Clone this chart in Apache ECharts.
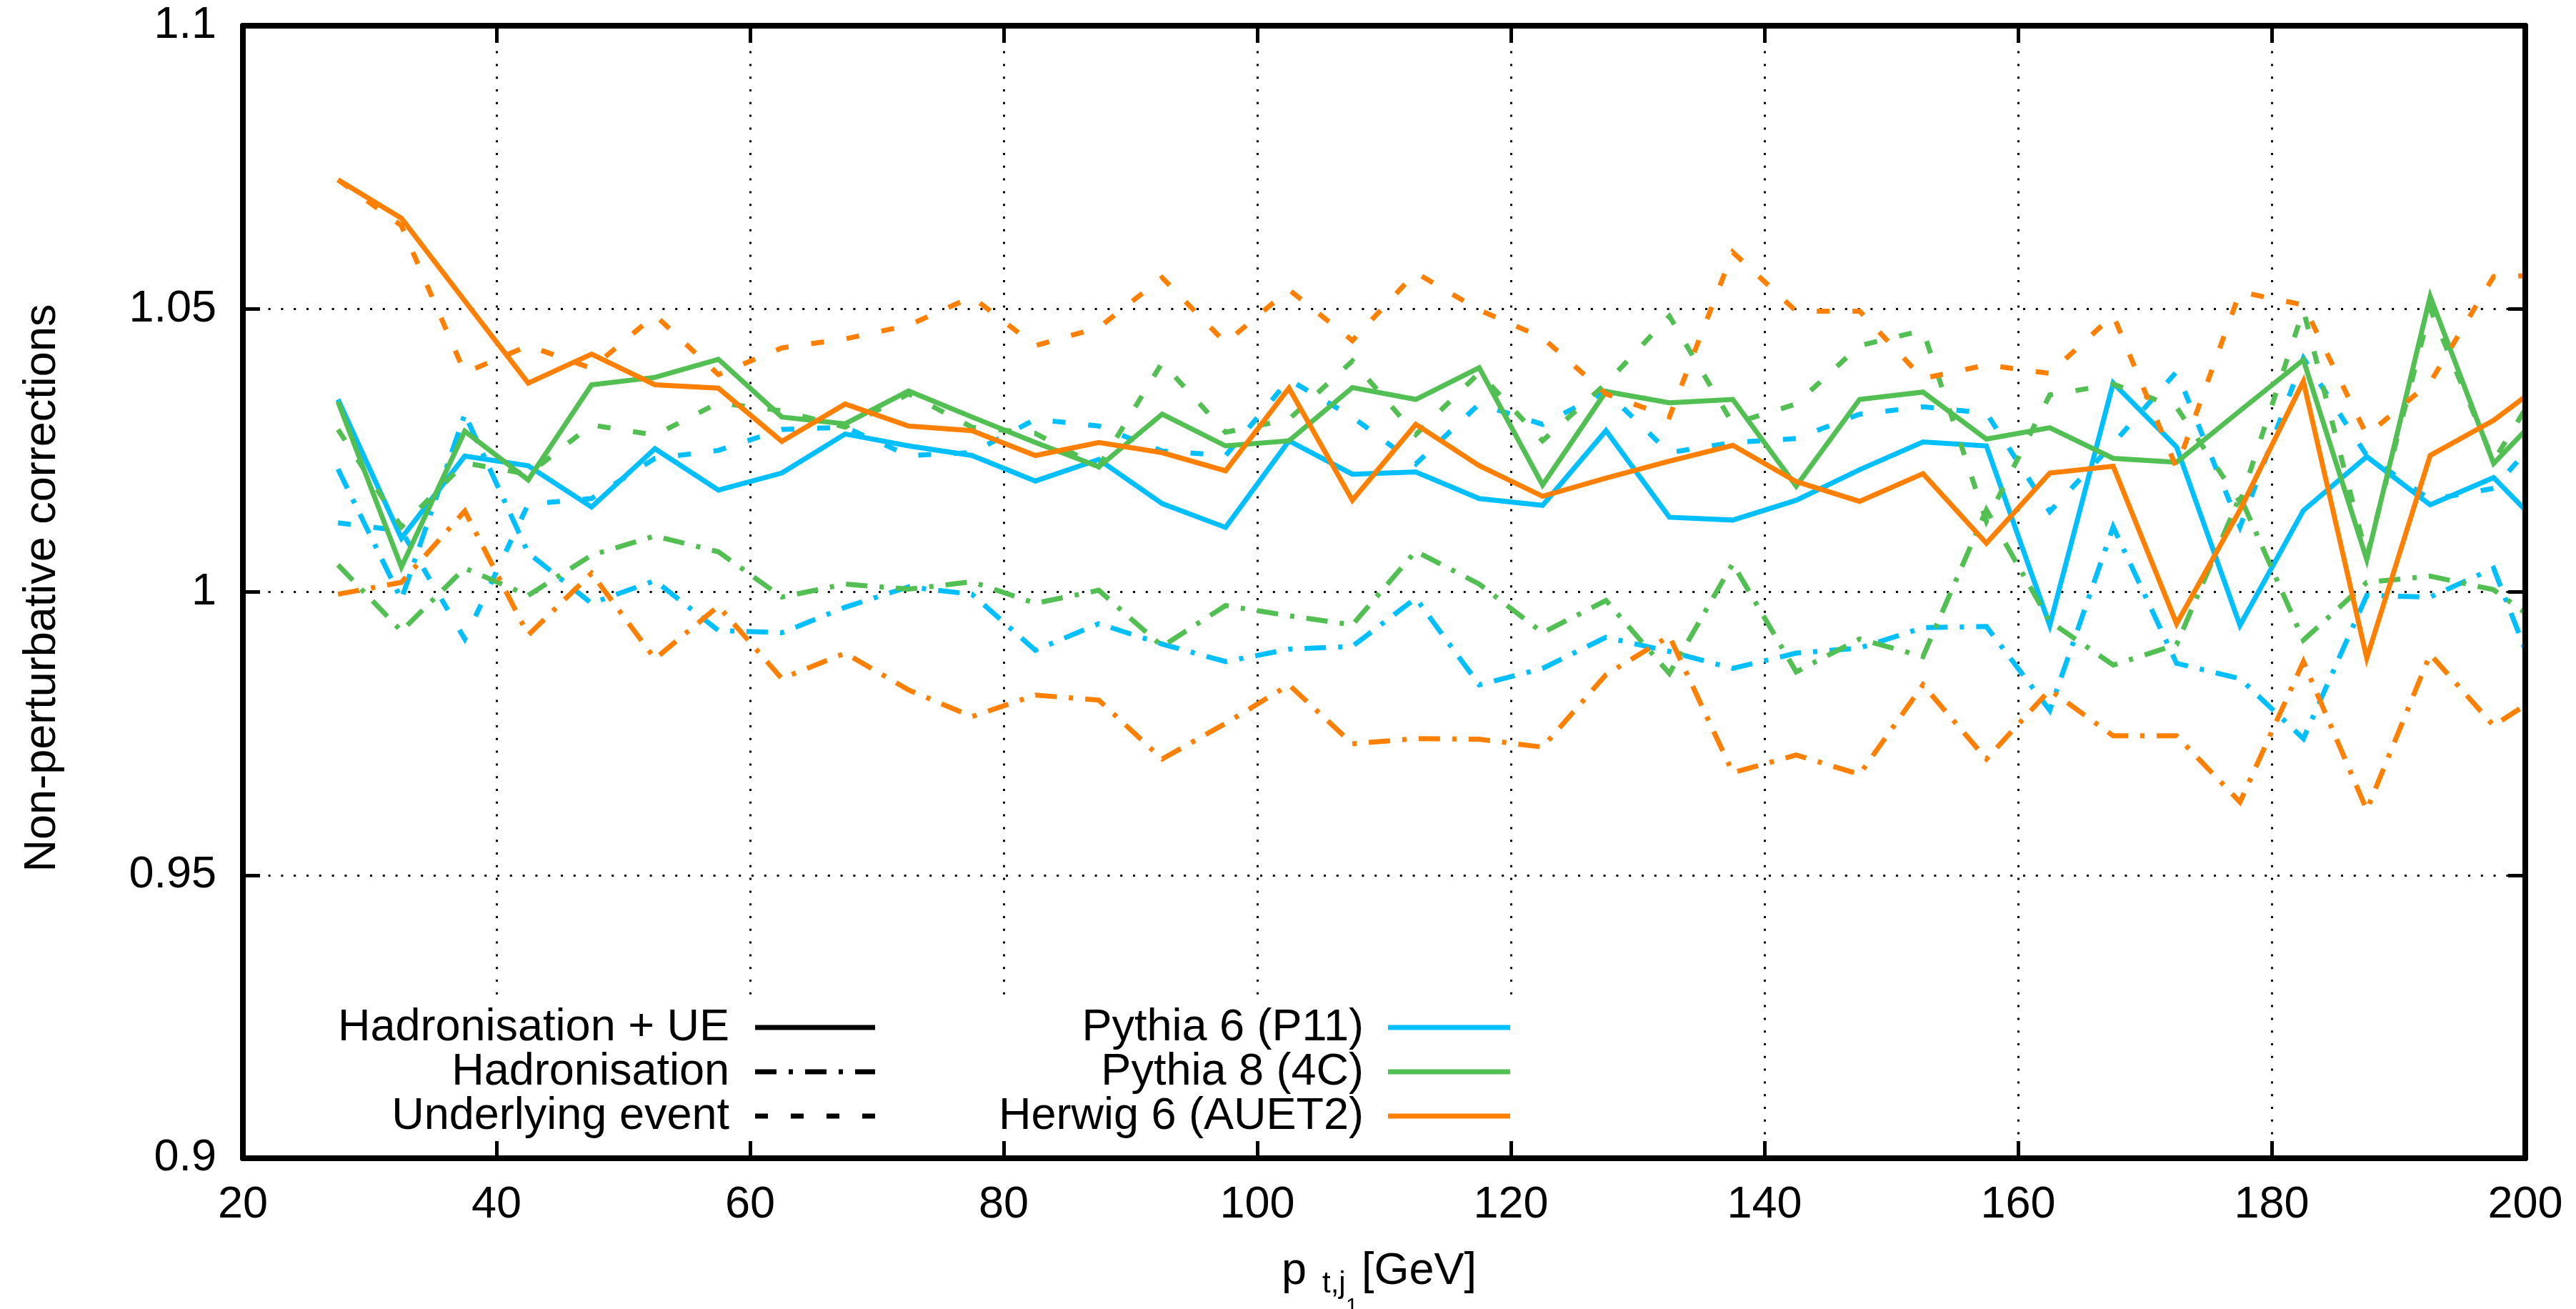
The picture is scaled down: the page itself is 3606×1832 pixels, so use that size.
<!DOCTYPE html>
<html>
<head>
<meta charset="utf-8">
<script src="https://cdn.jsdelivr.net/npm/echarts@6/dist/echarts.min.js"></script>
<style>
html,body{margin:0;padding:0;background:#fff;}
#chart{width:3606px;height:1832px;}
</style>
</head>
<body>
<div id="chart"></div>
<script>
// ---- data (bin centres in GeV; last point lies just beyond the axis end and is clipped) ----
const xCenters = [27.5, 32.5, 37.5, 42.5, 47.5, 52.5, 57.5, 62.5, 67.5, 72.5, 77.5, 82.5, 87.5, 92.5, 97.5, 102.5, 107.5, 112.5, 117.5, 122.5, 127.5, 132.5, 137.5, 142.5, 147.5, 152.5, 157.5, 162.5, 167.5, 172.5, 177.5, 182.5, 187.5, 192.5, 197.5, 202.5];

// Hadronisation + UE
const p6Full = [1.0340, 1.0095, 1.0240, 1.0223, 1.0150, 1.0253, 1.0180, 1.0210, 1.0279, 1.0258, 1.0241, 1.0196, 1.0234, 1.0156, 1.0114, 1.0267, 1.0208, 1.0212, 1.0165, 1.0153, 1.0285, 1.0132, 1.0127, 1.0162, 1.0216, 1.0265, 1.0258, 0.9941, 1.0369, 1.0256, 0.9941, 1.0144, 1.0239, 1.0154, 1.0202, 1.0088];
const p8Full = [1.0336, 1.0044, 1.0284, 1.0198, 1.0366, 1.0379, 1.0411, 1.0309, 1.0297, 1.0355, 1.0309, 1.0264, 1.0221, 1.0314, 1.0258, 1.0267, 1.0361, 1.0340, 1.0396, 1.0189, 1.0354, 1.0334, 1.0340, 1.0187, 1.0340, 1.0353, 1.0270, 1.0290, 1.0236, 1.0229, 1.0320, 1.0410, 1.0057, 1.0522, 1.0227, 1.0343];
const h6Full = [1.0728, 1.0660, 1.0514, 1.0369, 1.0420, 1.0366, 1.0360, 1.0266, 1.0332, 1.0293, 1.0285, 1.0241, 1.0264, 1.0246, 1.0214, 1.0360, 1.0162, 1.0296, 1.0223, 1.0169, 1.0201, 1.0231, 1.0259, 1.0195, 1.0160, 1.0209, 1.0086, 1.0210, 1.0222, 0.9944, 1.0145, 1.0372, 0.9883, 1.0241, 1.0303, 1.0387];

// Hadronisation only
const p6Had = [1.0217, 0.9987, 1.0314, 1.0069, 0.9980, 1.0020, 0.9932, 0.9928, 0.9973, 1.0009, 0.9996, 0.9897, 0.9944, 0.9908, 0.9877, 0.9899, 0.9904, 0.9989, 0.9836, 0.9865, 0.9920, 0.9895, 0.9865, 0.9892, 0.9901, 0.9937, 0.9939, 0.9791, 1.0115, 0.9874, 0.9847, 0.9741, 0.9994, 0.9991, 1.0042, 0.9754];
const p8Had = [1.0048, 0.9931, 1.0042, 0.9994, 1.0065, 1.0099, 1.0071, 0.9991, 1.0014, 1.0005, 1.0018, 0.9980, 1.0003, 0.9904, 0.9976, 0.9958, 0.9942, 1.0072, 1.0014, 0.9928, 0.9985, 0.9856, 1.0050, 0.9859, 0.9917, 0.9886, 1.0145, 0.9948, 0.9871, 0.9907, 1.0169, 0.9915, 1.0017, 1.0028, 1.0004, 0.9922];
const h6Had = [0.9996, 1.0017, 1.0143, 0.9924, 1.0033, 0.9882, 0.9975, 0.9847, 0.9892, 0.9827, 0.9780, 0.9818, 0.9809, 0.9705, 0.9768, 0.9836, 0.9732, 0.9741, 0.9740, 0.9726, 0.9854, 0.9922, 0.9681, 0.9712, 0.9678, 0.9836, 0.9705, 0.9827, 0.9746, 0.9746, 0.9629, 0.9877, 0.9615, 0.9890, 0.9764, 0.9836];

// Underlying event only
const p6UE = [1.0122, 1.0108, 0.9917, 1.0155, 1.0165, 1.0236, 1.0250, 1.0287, 1.0291, 1.0241, 1.0246, 1.0305, 1.0293, 1.0249, 1.0241, 1.0375, 1.0309, 1.0226, 1.0332, 1.0296, 1.0354, 1.0246, 1.0264, 1.0271, 1.0314, 1.0327, 1.0316, 1.0142, 1.0262, 1.0389, 1.0115, 1.0413, 1.0241, 1.0163, 1.0183, 1.0309];
const p8UE = [1.0287, 1.0115, 1.0228, 1.0208, 1.0295, 1.0277, 1.0334, 1.0320, 1.0291, 1.0350, 1.0291, 1.0280, 1.0221, 1.0405, 1.0282, 1.0305, 1.0408, 1.0278, 1.0387, 1.0267, 1.0368, 1.0487, 1.0297, 1.0332, 1.0435, 1.0462, 1.0125, 1.0348, 1.0367, 1.0326, 1.0159, 1.0498, 1.0062, 1.0500, 1.0231, 1.0415];
const h6UE = [1.0728, 1.0647, 1.0387, 1.0435, 1.0395, 1.0489, 1.0384, 1.0431, 1.0447, 1.0471, 1.0521, 1.0435, 1.0467, 1.0555, 1.0440, 1.0534, 1.0444, 1.0564, 1.0498, 1.0449, 1.0350, 1.0309, 1.0600, 1.0496, 1.0496, 1.0377, 1.0401, 1.0386, 1.0489, 1.0219, 1.0530, 1.0507, 1.0277, 1.0370, 1.0557, 1.0560];

const xTicks = [20, 40, 60, 80, 100, 120, 140, 160, 180, 200];
const yTicks = [0.9, 0.95, 1, 1.05, 1.1];
const yTickLabels = ['0.9', '0.95', '1', '1.05', '1.1'];

const generatorNames = ['Pythia 6 (P11)', 'Pythia 8 (4C)', 'Herwig 6 (AUET2)'];
const typeNames = ['Hadronisation + UE', 'Hadronisation', 'Underlying event'];
const xTitleMain = 'p';
const xTitleSub = 't,j';
const xTitleSubSub = '1';
const xTitleUnit = '[GeV]';
const yTitle = 'Non-perturbative corrections';

// ---- styles ----
const colors = ['#00bfff', '#52bf52', '#ff8000'];
const dashes = ['solid', [30, 17, 6, 17], [18, 32]];
const LW = 7;
const FONT = 'Liberation Sans';
const FS = 63;

const seriesTable = [
  [p6Full, p6Had, p6UE],
  [p8Full, p8Had, p8UE],
  [h6Full, h6Had, h6UE]
];

const series = [];
seriesTable.forEach((gen, gi) => {
  gen.forEach((arr, ti) => {
    series.push({
      type: 'line',
      name: generatorNames[gi] + ' ' + typeNames[ti],
      xAxisIndex: 0, yAxisIndex: 0,
      data: xCenters.map((x, i) => [x, arr[i]]),
      showSymbol: false,
      symbol: 'none',
      clip: true,
      lineStyle: { color: colors[gi], width: LW, type: dashes[ti], cap: 'butt', join: 'miter' },
      emphasis: { disabled: true },
      z: 2 + gi
    });
  });
});

const axisLine = { show: true, lineStyle: { color: '#000', width: 8 } };
const axisTick = { show: true, inside: true, length: 24, lineStyle: { color: '#000', width: 5 } };
const gridDots = { show: true, lineStyle: { color: '#000', width: 3, type: [3, 14.8] } };

const chart = echarts.init(document.getElementById('chart'), null, { renderer: 'canvas' });

// legend (drawn as graphic elements)
const rowY = [1438, 1500, 1562];
const graphic = [];
graphic.push({ type: 'rect', z: 10, shape: { x: 346, y: 1405, width: 1790, height: 208 }, style: { fill: '#fff' } });
typeNames.forEach((t, i) => {
  graphic.push({ type: 'text', z: 11, x: 1021, y: rowY[i] + 1, style: { text: t, fontSize: FS, fontFamily: FONT, fill: '#000', align: 'right', verticalAlign: 'middle' } });
  graphic.push({ type: 'line', z: 11, shape: { x1: 1057, y1: rowY[i], x2: 1225, y2: rowY[i] }, style: { stroke: '#000', lineWidth: LW, lineDash: dashes[i] === 'solid' ? null : dashes[i], lineCap: 'butt' } });
});
generatorNames.forEach((g, i) => {
  graphic.push({ type: 'text', z: 11, x: 1909, y: rowY[i] + 1, style: { text: g, fontSize: FS, fontFamily: FONT, fill: '#000', align: 'right', verticalAlign: 'middle' } });
  graphic.push({ type: 'line', z: 11, shape: { x1: 1943, y1: rowY[i], x2: 2114, y2: rowY[i] }, style: { stroke: colors[i], lineWidth: LW, lineCap: 'butt' } });
});
// axis titles
graphic.push({ type: 'text', z: 11, x: 60, y: 823, rotation: Math.PI / 2, style: { text: yTitle, fontSize: FS, fontFamily: FONT, fill: '#000', align: 'center', verticalAlign: 'middle' } });
graphic.push({ type: 'text', z: 11, x: 1794, y: 1780, style: { text: xTitleMain, fontSize: FS, fontFamily: FONT, fill: '#000', align: 'left', verticalAlign: 'middle' } });
graphic.push({ type: 'text', z: 11, x: 1851, y: 1797, style: { text: xTitleSub, fontSize: 42, fontFamily: FONT, fill: '#000', align: 'left', verticalAlign: 'middle' } });
graphic.push({ type: 'text', z: 11, x: 1884, y: 1829, style: { text: xTitleSubSub, fontSize: 30, fontFamily: FONT, fill: '#000', align: 'left', verticalAlign: 'middle' } });
graphic.push({ type: 'text', z: 11, x: 1906, y: 1780, style: { text: xTitleUnit, fontSize: FS, fontFamily: FONT, fill: '#000', align: 'left', verticalAlign: 'middle' } });

const option = {
  animation: false,
  backgroundColor: '#fff',
  grid: { left: 340, right: 71, top: 36, bottom: 211, containLabel: false },
  xAxis: [
    {
      type: 'value', position: 'bottom', min: xTicks[0], max: xTicks[xTicks.length - 1], interval: 20, z: 0,
      axisLine: axisLine, axisTick: axisTick,
      axisLabel: { show: true, fontSize: FS, fontFamily: FONT, color: '#000', margin: 34, formatter: v => String(v) },
      splitLine: gridDots
    },
    {
      type: 'value', position: 'top', min: xTicks[0], max: xTicks[xTicks.length - 1], interval: 20, z: 20,
      axisLine: axisLine, axisTick: axisTick, axisLabel: { show: false }, splitLine: { show: false }
    },
    {
      type: 'value', position: 'bottom', min: xTicks[0], max: xTicks[xTicks.length - 1], interval: 20, z: 20,
      axisLine: axisLine, axisTick: axisTick, axisLabel: { show: false }, splitLine: { show: false }
    }
  ],
  yAxis: [
    {
      type: 'value', position: 'left', min: yTicks[0], max: yTicks[yTicks.length - 1], interval: 0.05, z: 0,
      axisLine: axisLine, axisTick: axisTick,
      axisLabel: {
        show: true, fontSize: FS, fontFamily: FONT, color: '#000', margin: 37,
        formatter: v => { const i = yTicks.findIndex(t => Math.abs(t - v) < 1e-6); return i >= 0 ? yTickLabels[i] : ''; }
      },
      splitLine: gridDots
    },
    {
      type: 'value', position: 'right', min: yTicks[0], max: yTicks[yTicks.length - 1], interval: 0.05, z: 20,
      axisLine: axisLine, axisTick: axisTick, axisLabel: { show: false }, splitLine: { show: false }
    }
  ],
  graphic: graphic,
  series: series
};
chart.setOption(option);
</script>
</body>
</html>
